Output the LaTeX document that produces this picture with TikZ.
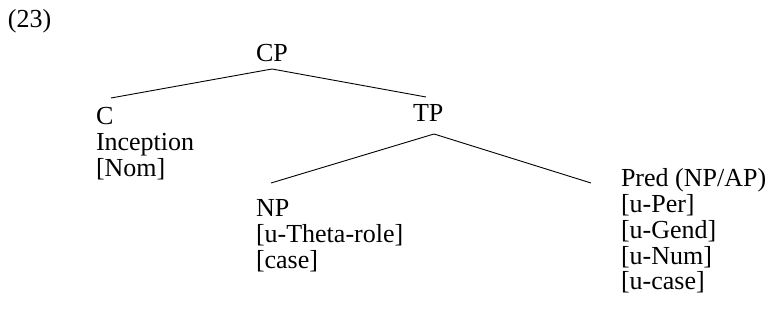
\documentclass[tikz,border=0pt]{standalone}
\usepackage{fontspec}
\setmainfont{Liberation Serif}
\begin{document}
\begin{tikzpicture}[x=1pt,y=-1pt,
  lbl/.style={inner sep=0pt,outer sep=0pt,anchor=base west,font=\fontsize{26}{25.5}\selectfont},
  branch/.style={line width=0.9pt,black}]
\useasboundingbox (0,0) rectangle (769,323);
\newcommand{\stack}[1]{\begin{tabular}[t]{@{}l@{}}#1\end{tabular}}
\node[lbl] (ex) at (8,28) {(23)};
\node[lbl] (CP) at (256,62) {CP};
\node[lbl] (C) at (96,125) {\stack{C\\Inception\\{[Nom]}}};
\node[lbl] (TP) at (413,122) {TP};
\node[lbl] (NP) at (256,217) {\stack{NP\\{[u-Theta-role]}\\{[case]}}};
\node[lbl] (Pred) at (621,187) {\stack{Pred (NP/AP)\\{[u-Per]}\\{[u-Gend]}\\{[u-Num]}\\{[u-case]}}};
\coordinate (cpA) at ([shift={(16,7)}]CP.base west);
\coordinate (cE) at ([shift={(15,-27)}]C.base west);
\coordinate (tpE) at ([shift={(13,-25)}]TP.base west);
\coordinate (tpA) at ([shift={(21,12)}]TP.base west);
\coordinate (npE) at ([shift={(15,-34)}]NP.base west);
\coordinate (predE) at ([shift={(-30,-4)}]Pred.base west);
\draw[branch] (cE) -- (cpA) -- (tpE);
\draw[branch] (npE) -- (tpA) -- (predE);
\end{tikzpicture}
\end{document}
